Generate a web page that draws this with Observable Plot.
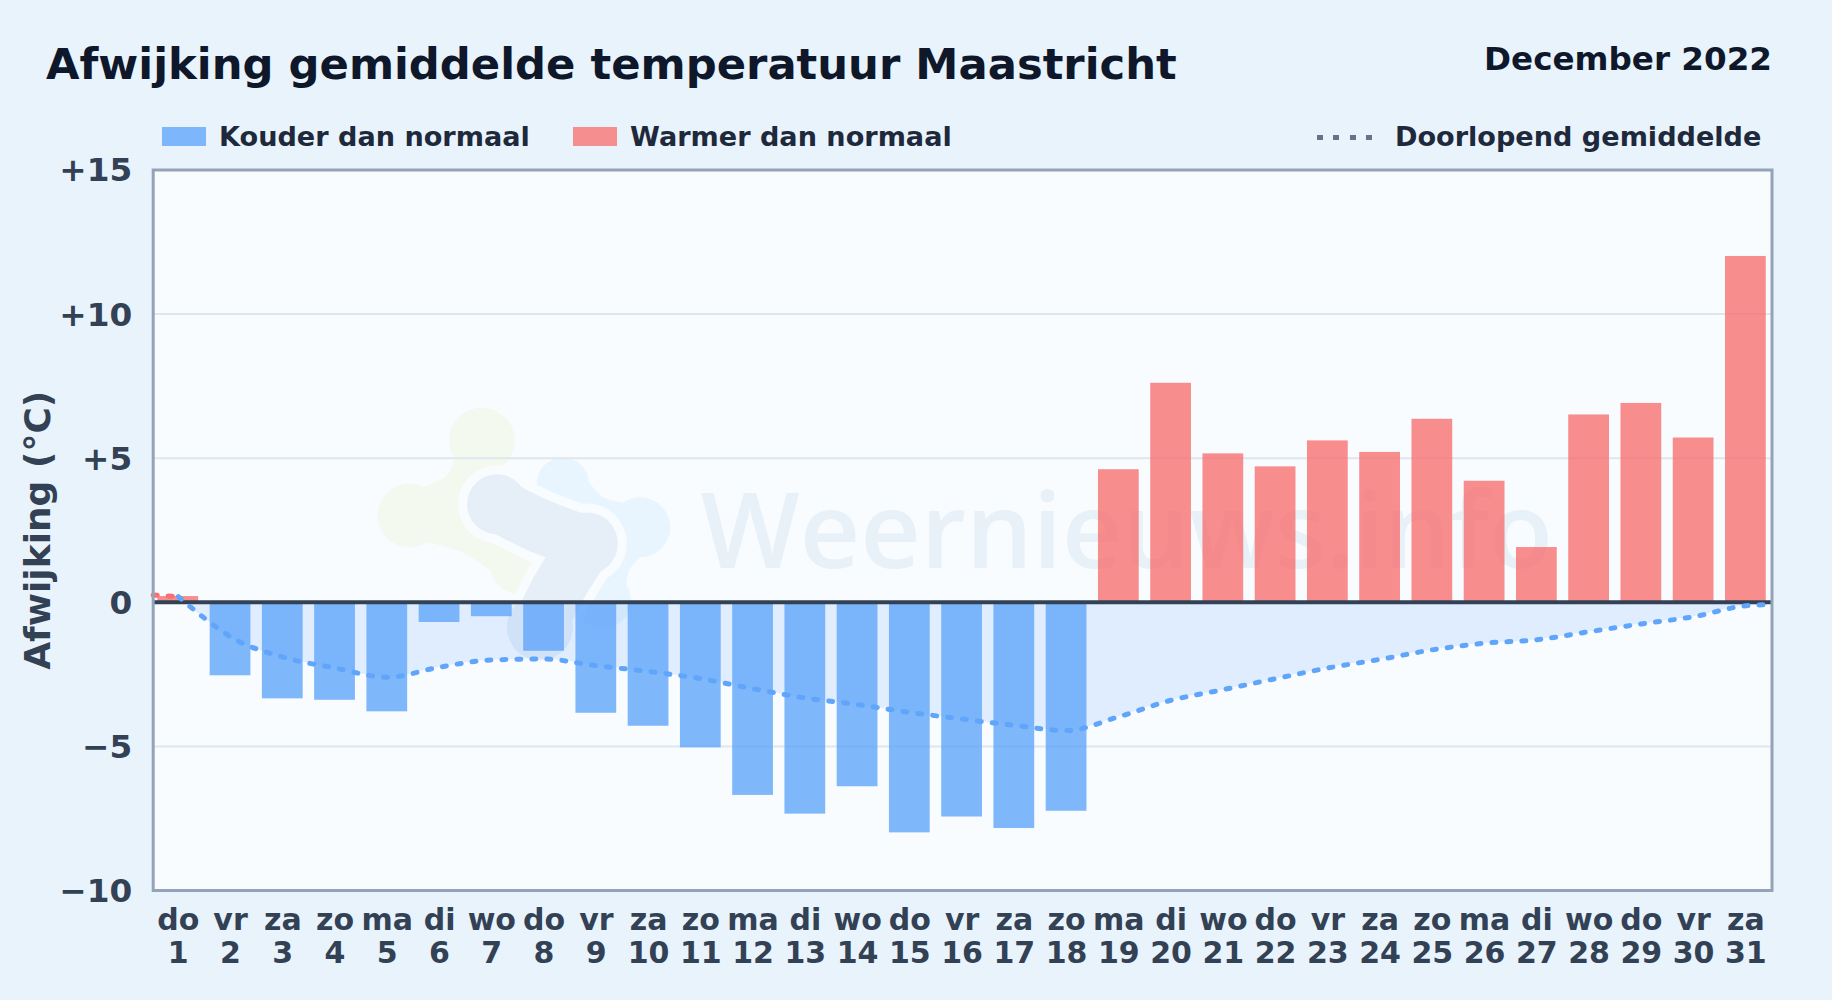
<!DOCTYPE html>
<html lang="nl">
<head>
<meta charset="utf-8">
<script src="https://cdn.jsdelivr.net/npm/d3@7"></script>
<script src="https://cdn.jsdelivr.net/npm/@observablehq/plot@0.6"></script>
<style>
  html, body { margin: 0; padding: 0; width: 1832px; height: 1000px; overflow: hidden; background: #e8f3fc; font-family: "DejaVu Sans", sans-serif; font-weight: bold; }
  #chart { position: absolute; left: 0; top: 0; }
  #chart svg { background: transparent; display: block; }
  .t { position: absolute; white-space: nowrap; line-height: 1; }
  #title { left: 46px; top: 43px; font-size: 43.3px; color: #0f172a; }
  #period { right: 60px; top: 43px; font-size: 32.6px; color: #0f172a; }
  .leg { top: 123px; font-size: 27.1px; color: #1e293b; }
  .sw { position: absolute; top: 127px; width: 43.5px; height: 19px; }
  #dots { position: absolute; left: 1317px; top: 135px; width: 57px; height: 4.5px; background: repeating-linear-gradient(90deg, #64748b 0 6px, transparent 6px 16.5px); }
</style>
</head>
<body>
<div id="title" class="t">Afwijking gemiddelde temperatuur Maastricht</div>
<div id="period" class="t">December 2022</div>
<div class="sw" style="left:162px;background:#7eb6fb"></div>
<div class="t leg" style="left:219px">Kouder dan normaal</div>
<div class="sw" style="left:573px;background:#f58f8f"></div>
<div class="t leg" style="left:630px">Warmer dan normaal</div>
<div id="dots"></div>
<div class="t leg" style="left:1395px">Doorlopend gemiddelde</div>
<div id="chart"></div>
<script>
const days = d3.range(1, 32);
const weekdays = ["do","vr","za","zo","ma","di","wo","do","vr","za","zo","ma","di","wo","do","vr","za","zo","ma","di","wo","do","vr","za","zo","ma","di","wo","do","vr","za"];
const deviations = [0.2,-2.55,-3.35,-3.4,-3.8,-0.7,-0.5,-1.7,-3.85,-4.3,-5.05,-6.7,-7.35,-6.4,-8.0,-7.45,-7.85,-7.25,4.6,7.6,5.15,4.7,5.6,5.2,6.35,4.2,1.9,6.5,6.9,5.7,12.0];
const runDays = [0.52,1,1.5,2,3,4,5,6,7,8,9,10,11,12,13,14,15,16,17,18,19,20,21,22,23,24,25,26,27,28,29,30,31,31.5];
const runMeans = [0.25,0.2,-0.55,-1.2,-1.9,-2.28,-2.6,-2.25,-2.0,-1.97,-2.2,-2.4,-2.65,-3.0,-3.32,-3.55,-3.82,-4.05,-4.27,-4.45,-3.97,-3.4,-3.03,-2.65,-2.28,-1.98,-1.65,-1.42,-1.3,-1.02,-0.75,-0.5,-0.12,-0.08];
const yTicks = [-10,-5,0,5,10,15];
const gridTicks = [-5,5,10];

// watermark logo, in chart units (day, degrees): lobes and the links between them
const logoGreenLobes = [[6.81,5.61,33],[5.43,3.01,32],[7.53,1.34,30]];
const logoGreenLinks = [[[6.81,5.61],[6.48,3.88],[5.43,3.01]],[[5.43,3.01],[6.58,2.49],[7.53,1.34]]];
const logoBlueLobes = [[8.36,4.12,26],[9.84,2.60,30],[9.13,0.06,28]];
const logoBlueLinks = [[[8.36,4.12],[8.9,3.0],[9.84,2.60]],[[9.84,2.60],[9.25,1.45],[9.13,0.06]]];
const logoNavyLobes = [[7.1,3.4,30],[8.82,2.04,31],[7.92,-0.87,33]];
const logoNavyLinks = [[[7.1,3.4],[7.85,2.7],[8.82,2.04]],[[8.82,2.04],[8.25,0.4],[7.92,-0.87]]];

const bars = days.map((d,i) => ({day:d, v:deviations[i]}));
const run = runDays.map((d,i) => ({day:d, m:runMeans[i]}));
const half = 0.39;
const panel = "#f8fcff", blue = "#60a5fa", red = "#f87171", ink = "#334155";
const fmtY = v => v > 0 ? "+" + v : v < 0 ? "\u2212" + Math.abs(v) : "0";

function logoPart(lobes, links, color, width, grow = 0) {
  return [
    ...links.map(l => Plot.line(l, {x:d=>d[0], y:d=>d[1], stroke:color, strokeWidth:width + 2*grow, curve:"catmull-rom", strokeLinecap:"round"})),
    Plot.dot(lobes, {x:d=>d[0], y:d=>d[1], r:d=>d[2] + grow, fill:color, stroke:"none"})
  ];
}

const plot = Plot.plot({
  width: 1832, height: 1000,
  marginLeft: 152.7, marginRight: 60.5, marginTop: 169.5, marginBottom: 110,
  style: {fontFamily:"'DejaVu Sans', sans-serif", background:"transparent", overflow:"visible"},
  x: {type:"linear", domain:[0.52,31.5]},
  y: {type:"linear", domain:[-10,15]},
  r: {type:"identity"},
  marks: [
    Plot.frame({fill:panel, stroke:"none"}),
    ...logoPart(logoBlueLobes, logoBlueLinks, "#e8f5fe", 44),
    ...logoPart(logoGreenLobes, logoGreenLinks, "#f3f9ef", 46),
    ...logoPart(logoNavyLobes, logoNavyLinks, panel, 54, 9),
    ...logoPart(logoNavyLobes, logoNavyLinks, "#e6eff8", 54),
    Plot.text(["Weernieuws.info"], {x:()=>19.15, y:()=>2.35, fontFamily:"Open Sans", fontSize:105, fontWeight:600, fill:"#e8f0f8", textAnchor:"middle"}),
    Plot.ruleY(gridTicks, {stroke:"#dfe6ee", strokeWidth:2}),
    Plot.areaY(run.filter(d=>d.day>=1), {x:"day", y1:0, y2:"m", fill:blue, fillOpacity:0.165, curve:"monotone-x"}),
    Plot.rectY(bars.filter(d=>d.v<0), {x1:d=>d.day-half, x2:d=>d.day+half, y1:0, y2:"v", fill:blue, fillOpacity:0.8}),
    Plot.rectY(bars.filter(d=>d.v>=0), {x1:d=>d.day-half, x2:d=>d.day+half, y1:0, y2:"v", fill:red, fillOpacity:0.8}),
    Plot.ruleY([0], {stroke:ink, strokeWidth:4}),
    Plot.line(run.filter(d=>d.day<=1), {x:"day", y:"m", stroke:red, strokeWidth:5, strokeDasharray:"4,11", strokeLinecap:"round", curve:"monotone-x"}),
    Plot.line(run.filter(d=>d.day>=1), {x:"day", y:"m", stroke:blue, strokeWidth:5, strokeDasharray:"4,11", strokeLinecap:"round", curve:"monotone-x"}),
    Plot.frame({stroke:"#94a3b8", strokeWidth:3}),
    Plot.axisY({ticks:yTicks, tickFormat:fmtY, tickSize:0, tickPadding:21, dy:1, label:null, fontSize:32.7, fontWeight:"bold", fill:ink, fontVariant:"normal"}),
    Plot.axisX({ticks:days, tickFormat:(d)=>weekdays[d-1]+"\n"+d, tickSize:0, tickPadding:15, label:null, fontSize:30, fontWeight:"bold", fill:ink, lineHeight:1.13, fontVariant:"normal"}),
    Plot.text(["Afwijking (°C)"], {text:d=>d, frameAnchor:"left", textAnchor:"middle", rotate:-90, dx:-115, fontSize:36, fontWeight:"bold", fill:ink})
  ]
});
document.getElementById("chart").appendChild(plot);
</script>
</body>
</html>
